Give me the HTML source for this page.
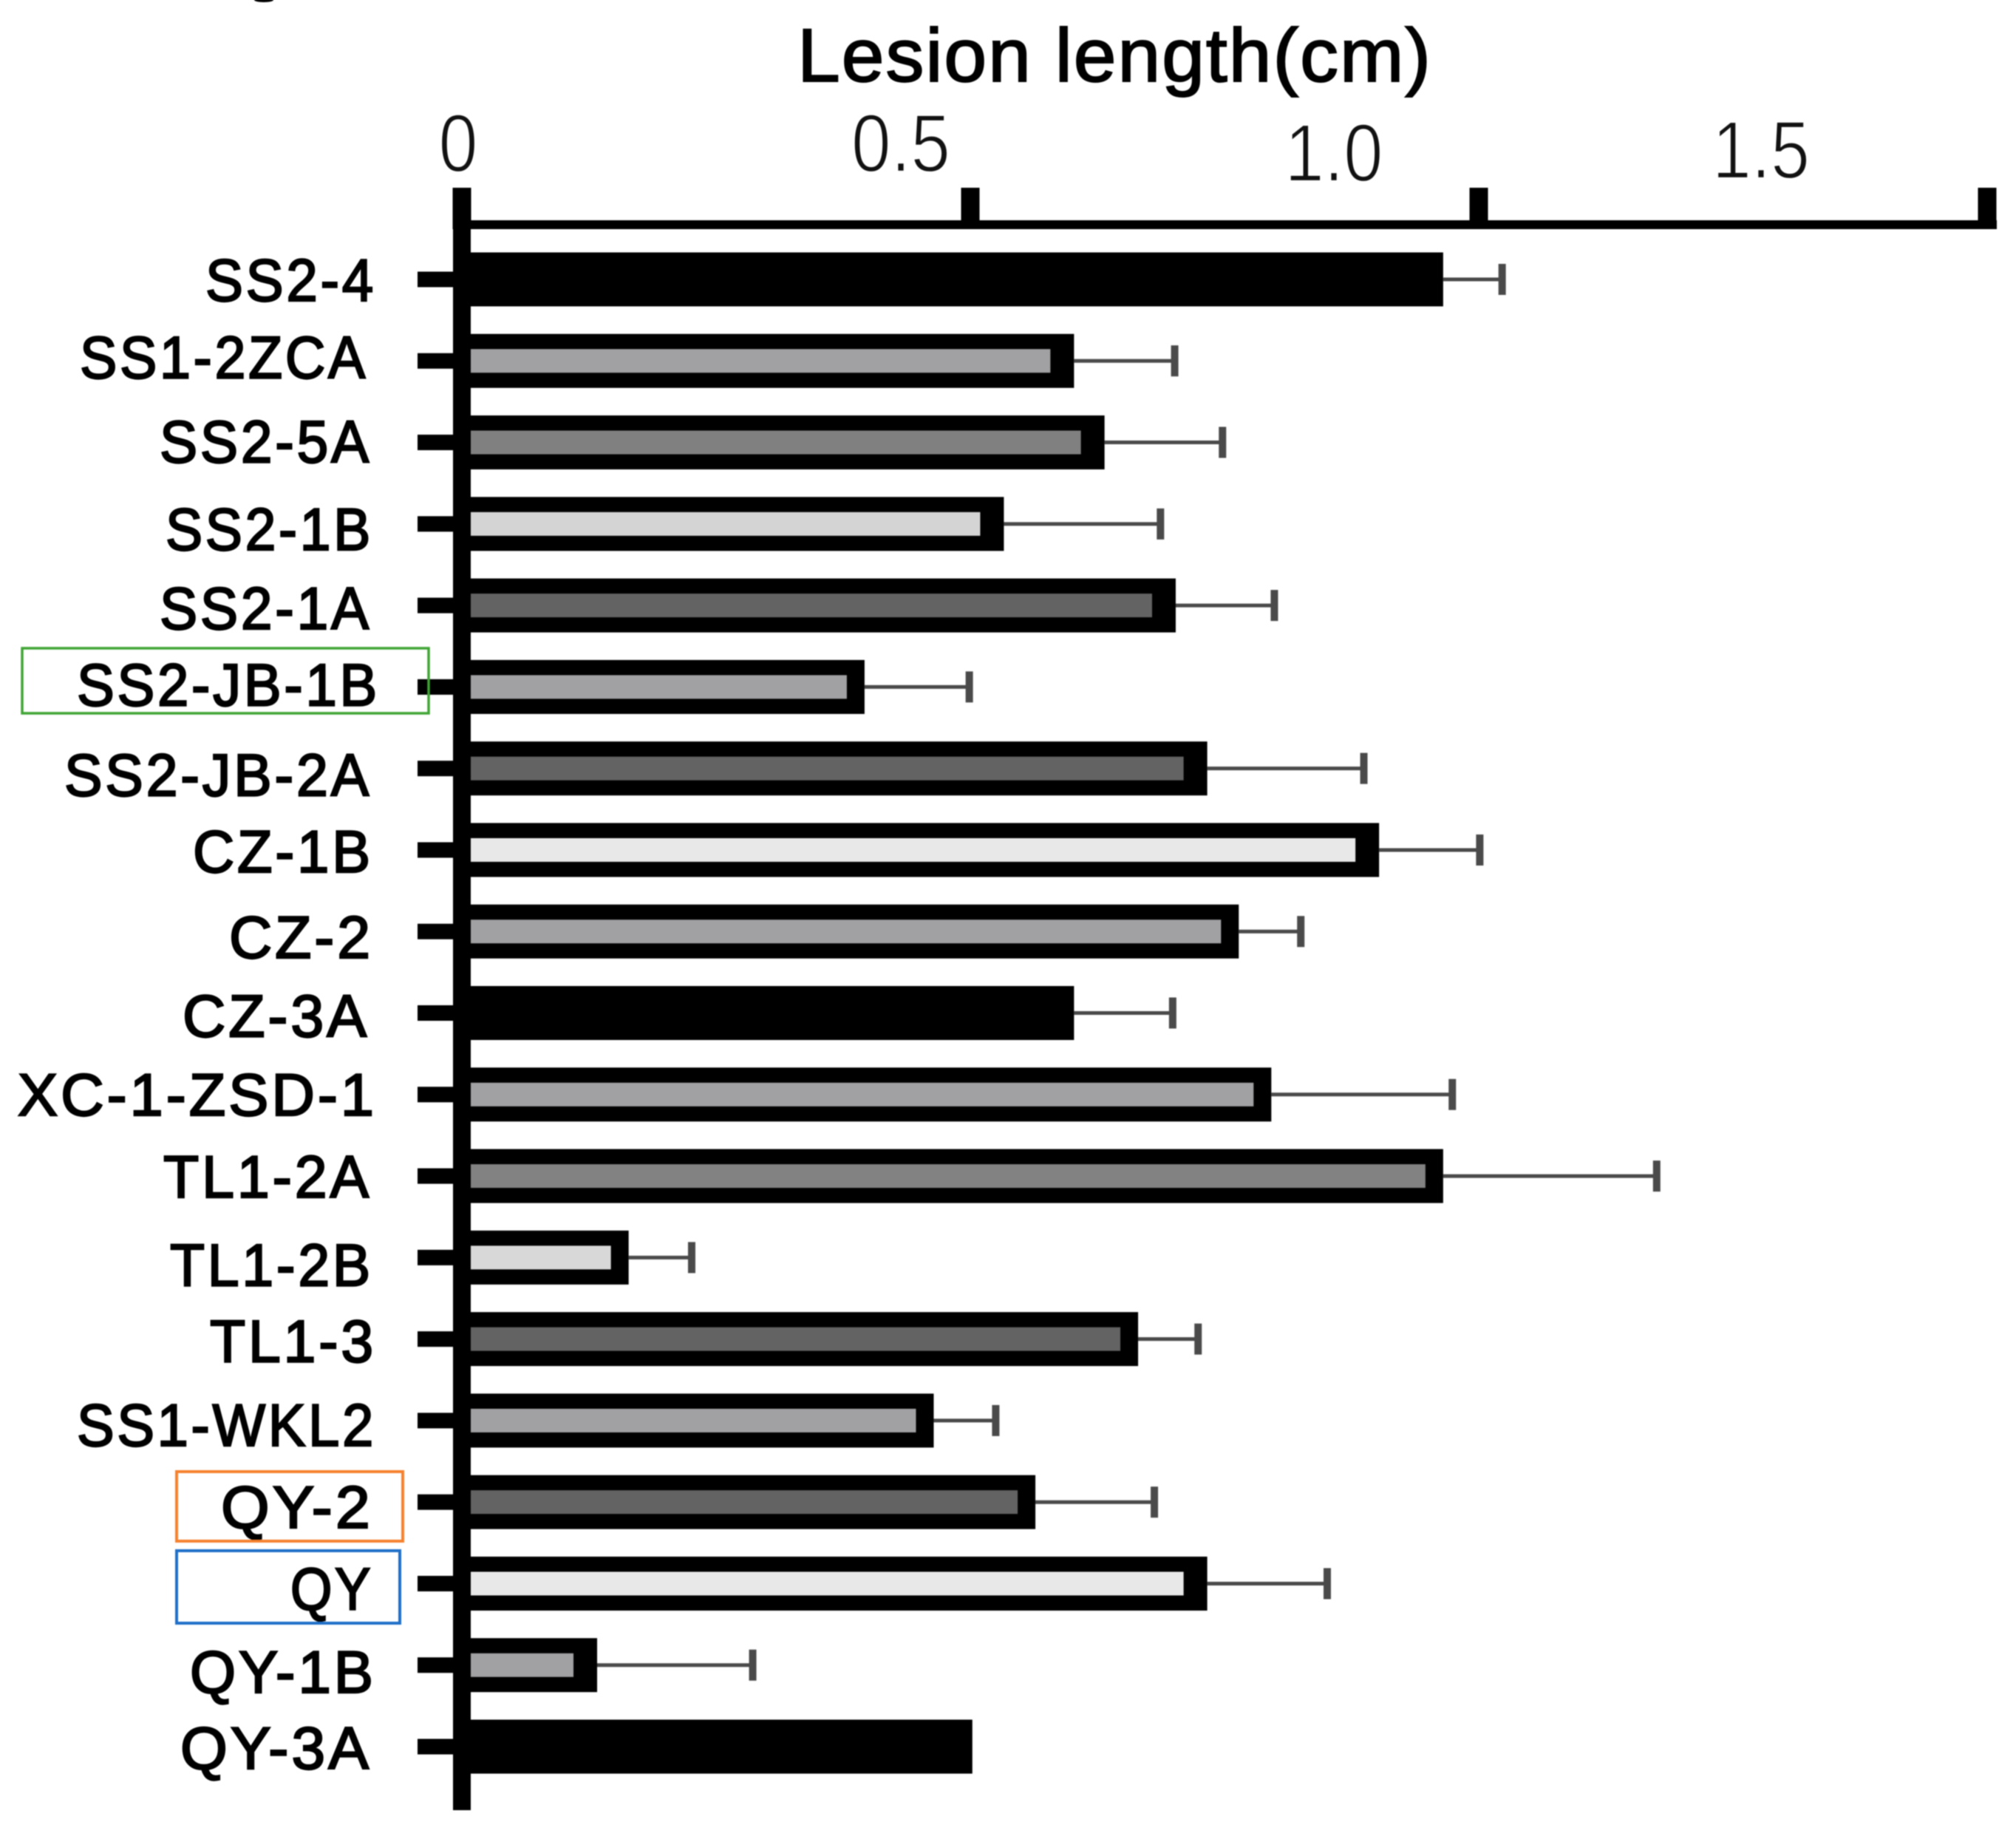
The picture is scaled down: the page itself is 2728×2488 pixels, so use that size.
<!DOCTYPE html>
<html lang="en">
<head>
<meta charset="utf-8">
<title>Lesion length chart</title>
<style>
html,body{margin:0;padding:0;background:#fff;}
svg{display:block;}
text{font-family:"Liberation Sans",sans-serif;}
</style>
</head>
<body>
<svg id="chart" xmlns="http://www.w3.org/2000/svg" width="2728" height="2488" viewBox="0 0 2728 2488">
  <rect x="0" y="0" width="2728" height="2488" fill="#fff"/>
  <g id="plot" style="filter:blur(0.9px)"></g>
</svg>
<script>
const categories = ['SS2-4','SS1-2ZCA','SS2-5A','SS2-1B','SS2-1A','SS2-JB-1B','SS2-JB-2A','CZ-1B','CZ-2','CZ-3A','XC-1-ZSD-1','TL1-2A','TL1-2B','TL1-3','SS1-WKL2','QY-2','QY','QY-1B','QY-3A'];
const lesionLength = [0.965,0.602,0.632,0.533,0.702,0.396,0.733,0.902,0.764,0.602,0.796,0.965,0.164,0.665,0.464,0.564,0.733,0.133,0.502];
const errorValues = [0.058,0.099,0.116,0.154,0.097,0.103,0.154,0.099,0.061,0.097,0.178,0.210,0.062,0.059,0.061,0.117,0.118,0.153,0];
const barFills = ['#000','#a1a1a4','#808080','#d4d4d4','#636363','#a1a1a4','#636363','#e8e8e8','#a1a1a4','#000','#a1a1a4','#828282','#d8d8d8','#636363','#a1a1a4','#636363','#e8e8e8','#a1a1a4','#000'];
const tickValues = [0,0.5,1.0,1.5];
const tickLabels = ['0','0.5','1.0','1.5'];

const NS = 'http://www.w3.org/2000/svg';
const plot = document.getElementById('plot');
const xScale = v => 625 + 1376 * v;
const yBand = i => 378 + 110.28 * i;

/* hand-placed label layout of the pasted figure */
const labelLeftPx = [278,108,216,224,216,104,87,261,310,247,24,221,230,284,104,299,393,257,244];
const labelRightPx = [505,494,499,501,499,510,499,501,501,496,506,499,501,505,505,501,501,505,499];
const labelNudgeY = [0,-6,-2,6,3,-4,8,1,7,3,-1,0,9,2,5,6,6,8,1];
const outlineRightPx = [32,32,32,32,32,24,32,32,24,32,24,24,24,24,24,24,32,32,32];
const tickLabelCenterPx = [620,1219,1805,2383];
const tickLabelBaselinePx = [232,232,245,241];
const tickLabelWidthPx = [53,134,133,132];

function make(tag, attrs, text) {
  const el = document.createElementNS(NS, tag);
  for (const k in attrs) el.setAttribute(k, attrs[k]);
  if (text !== undefined) el.textContent = text;
  plot.appendChild(el);
  return el;
}

/* axis title */
const title = make('text', {x:1079, y:110, 'font-size':102, textLength:859, lengthAdjust:'spacingAndGlyphs', 'letter-spacing':2, fill:'#000', stroke:'#000', 'stroke-width':2}, 'Lesion length(cm)');



/* tick labels and ticks */
tickValues.forEach((v, i) => {
  const label = make('text', {x:tickLabelCenterPx[i] - tickLabelWidthPx[i] / 2, y:tickLabelBaselinePx[i], 'font-size':110, textLength:tickLabelWidthPx[i], lengthAdjust:'spacingAndGlyphs', fill:'#111', stroke:'#fff', 'stroke-width':2.2}, tickLabels[i]);
  
  
  const tick = make('rect', {x:xScale(v) - 12.5, y:254, width:25, height:56, fill:'#000'});
  
  
});

/* error bars sit behind bars */
categories.forEach((c, i) => {
  if (errorValues[i] <= 0) return;
  const end = xScale(lesionLength[i] + errorValues[i]);
  const y = yBand(i);
  const line = make('line', {x1:xScale(lesionLength[i]), x2:end, y1:y, y2:y, stroke:'#4a4a4a', 'stroke-width':5});
  
  
  const cap = make('line', {x1:end, x2:end, y1:y - 21, y2:y + 21, stroke:'#4a4a4a', 'stroke-width':10});
  
  
});

/* bars, category ticks and labels */
categories.forEach((c, i) => {
  const y = yBand(i);
  const x0 = xScale(0);
  const w = xScale(lesionLength[i]) - x0;
  const bar = make('rect', {x:x0, y:y - 36.5, width:w, height:73, fill:'#000'});
  
  
  if (barFills[i] !== '#000') {
    const inner = make('rect', {x:x0 + 12, y:y - 16, width:Math.max(0, w - 12 - outlineRightPx[i]), height:32, fill:barFills[i]});
    
    
  }
  const tick = make('rect', {x:565, y:y - 10.5, width:50, height:21, fill:'#000'});
  
  
  const label = make('text', {x:labelLeftPx[i], y:y + labelNudgeY[i] + 29, 'font-size':81, textLength:labelRightPx[i] - labelLeftPx[i] + 4, lengthAdjust:'spacingAndGlyphs', 'letter-spacing':4, fill:'#000', stroke:'#000', 'stroke-width':2.4}, c);
  
  
});

/* axes */
const yAxis = make('rect', {x:613, y:254, width:24, height:2195, fill:'#000'});


const xAxis = make('rect', {x:613, y:298, width:2089, height:12, fill:'#000'});



/* highlight boxes */
const greenBox = make('rect', {x:30, y:877, width:550, height:88, fill:'none', stroke:'#3fa535', 'stroke-width':3.5});


const orangeBox = make('rect', {x:239, y:1991, width:306, height:94, fill:'none', stroke:'#f5812f', 'stroke-width':4});


const blueBox = make('rect', {x:239, y:2098, width:302, height:98, fill:'none', stroke:'#1f6fc9', 'stroke-width':4});



/* cropped glyph remnant at the top edge */
const remnant = make('ellipse', {cx:357, cy:0, rx:13, ry:3, fill:'#000'});


</script>
</body>
</html>
